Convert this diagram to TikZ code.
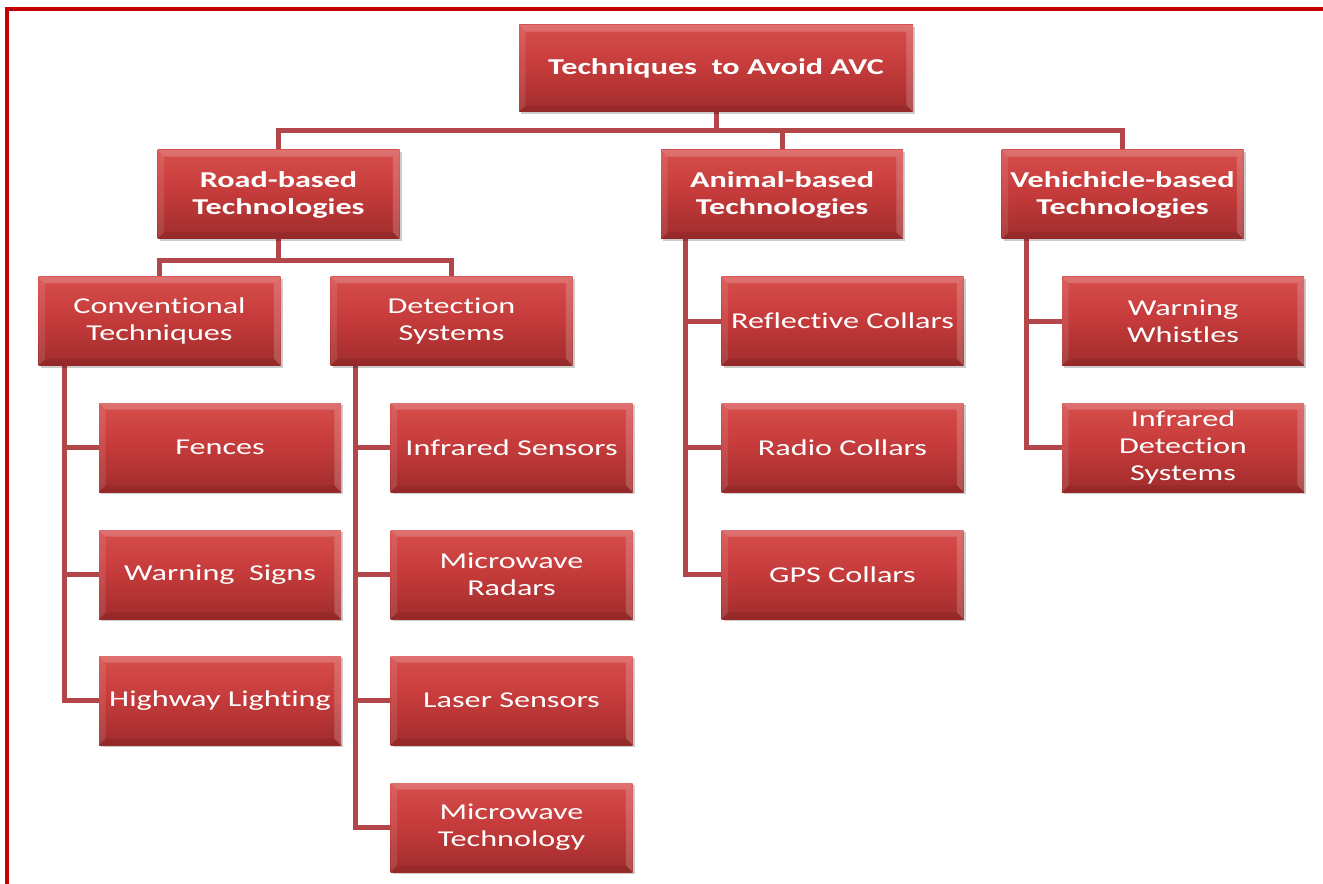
\documentclass[tikz,border=0pt]{standalone}
\usepackage{fontspec}
\setmainfont{Carlito}[FakeStretch=1.42, Ligatures={NoCommon}]
\usetikzlibrary{shadows,backgrounds}
\definecolor{boxtop}{RGB}{214,78,76}
\definecolor{boxmid}{RGB}{196,58,58}
\definecolor{boxbot}{RGB}{160,44,44}
\definecolor{connc}{RGB}{178,70,72}
\definecolor{framered}{RGB}{196,0,0}
\tikzset{
  bevelbox/.style={rectangle, inner sep=0pt, align=center, text=white,
    minimum width=181.5pt, minimum height=66.75pt,
    font=\fontsize{17}{20.25}\selectfont,
    top color=boxtop, bottom color=boxbot, middle color=boxmid,
    drop shadow={shadow xshift=1.5pt, shadow yshift=-1.5pt, opacity=0.2, fill=black},
    path picture={
      \fill[white, opacity=0.2] (path picture bounding box.north west) -- (path picture bounding box.north east)
        -- ([xshift=-5pt,yshift=-5pt]path picture bounding box.north east) -- ([xshift=5pt,yshift=-5pt]path picture bounding box.north west) -- cycle;
      \fill[white, opacity=0.1] (path picture bounding box.north west) -- ([xshift=5pt,yshift=-5pt]path picture bounding box.north west)
        -- ([xshift=5pt,yshift=5pt]path picture bounding box.south west) -- (path picture bounding box.south west) -- cycle;
      \fill[black, opacity=0.08] (path picture bounding box.south west) -- (path picture bounding box.south east)
        -- ([xshift=-5pt,yshift=5pt]path picture bounding box.south east) -- ([xshift=5pt,yshift=5pt]path picture bounding box.south west) -- cycle;
      \fill[white, opacity=0.18] (path picture bounding box.north east) -- (path picture bounding box.south east)
        -- ([xshift=-5pt,yshift=5pt]path picture bounding box.south east) -- ([xshift=-5pt,yshift=-5pt]path picture bounding box.north east) -- cycle;
    }},
  headbox/.style={bevelbox, font=\fontsize{17}{20.25}\selectfont\bfseries},
  rootbox/.style={headbox, minimum width=295.5pt, minimum height=65.25pt},
  conn/.style={draw=connc, line width=3.75pt}
}
\begin{document}
\begin{tikzpicture}[x=0.75pt, y=-0.75pt]
\useasboundingbox (0,0) rectangle (1323,884);

% nodes
\node[rootbox] (root) at (716,68.5) {Techniques\ \ to Avoid AVC};
\node[headbox] (road) at (278.5,194.5) {Road-based\\Technologies};
\node[headbox] (animal) at (782,194.5) {Animal-based\\Technologies};
\node[headbox] (veh) at (1122.5,194.5) {Vehichicle-based\\Technologies};

\node[bevelbox] (conv) at (159.5,321) {Conventional\\Techniques};
\node[bevelbox] (det) at (451.5,321) {Detection\\Systems};
\node[bevelbox] (refl) at (842.5,321) {Reflective Collars};
\node[bevelbox] (whis) at (1183,321) {Warning\\Whistles};

\node[bevelbox] (fences) at (220,447.5) {Fences};
\node[bevelbox] (ws) at (220,574.5) {Warning\ \ Signs};
\node[bevelbox] (hl) at (220,700.5) {Highway Lighting};

\node[bevelbox] (irs) at (511.5,447.5) {Infrared Sensors};
\node[bevelbox] (mr) at (511.5,574.5) {Microwave\\Radars};
\node[bevelbox] (ls) at (511.5,700.5) {Laser Sensors};
\node[bevelbox] (mt) at (511.5,827.5) {Microwave\\Technology};

\node[bevelbox] (radio) at (842.5,447.5) {Radio Collars};
\node[bevelbox] (gps) at (842.5,574.5) {GPS Collars};

\node[bevelbox] (ids) at (1183,447.5) {Infrared\\Detection\\Systems};

\coordinate (bus1) at (0,130.5);
\coordinate (bus2) at (0,260);
\coordinate (cstem) at (64,0);
\coordinate (dstem) at (355,0);
\coordinate (astem) at (685,0);
\coordinate (vstem) at (1026,0);

\begin{scope}[on background layer]
\fill[white] (0,0) rectangle (1323,884);
\draw[framered, line width=3.2pt, line join=miter] (7,884) -- (7,9) -- (1323,9);

\draw[conn] (root.south) -- (root.south |- bus1);
\draw[conn] (road.north) -- (road.north |- bus1) -- (veh.north |- bus1) -- (veh.north);
\draw[conn] (animal.north) -- (animal.north |- bus1);

\draw[conn] (road.south) -- (road.south |- bus2);
\draw[conn] (conv.north) |- (det.north |- bus2) -- (det.north);

\draw[conn] (conv.south -| cstem) |- (hl.west);
\draw[conn] (cstem |- fences.west) -- (fences.west);
\draw[conn] (cstem |- ws.west) -- (ws.west);

\draw[conn] (det.south -| dstem) |- (mt.west);
\draw[conn] (dstem |- irs.west) -- (irs.west);
\draw[conn] (dstem |- mr.west) -- (mr.west);
\draw[conn] (dstem |- ls.west) -- (ls.west);

\draw[conn] (animal.south -| astem) |- (gps.west);
\draw[conn] (astem |- refl.west) -- (refl.west);
\draw[conn] (astem |- radio.west) -- (radio.west);

\draw[conn] (veh.south -| vstem) |- (ids.west);
\draw[conn] (vstem |- whis.west) -- (whis.west);
\end{scope}
\end{tikzpicture}
\end{document}
